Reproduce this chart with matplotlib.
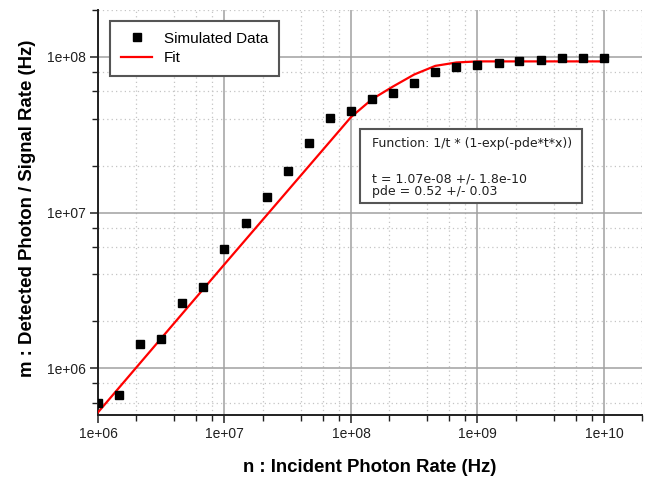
import matplotlib
matplotlib.use("Agg")
import matplotlib.pyplot as plt
from matplotlib.patches import Rectangle
from matplotlib.ticker import LogLocator, NullFormatter, FixedLocator, FixedFormatter

# simulated points
x_data = [1.0e6, 1.47e6, 2.15e6, 3.16e6, 4.64e6, 6.81e6,
          1.0e7, 1.47e7, 2.15e7, 3.16e7, 4.64e7, 6.81e7,
          1.0e8, 1.47e8, 2.15e8, 3.16e8, 4.64e8, 6.81e8,
          1.0e9, 1.47e9, 2.15e9, 3.16e9, 4.64e9, 6.81e9, 1.0e10]
y_data = [5.96e5, 6.77e5, 1.43e6, 1.53e6, 2.61e6, 3.34e6,
          5.80e6, 8.57e6, 1.25e7, 1.85e7, 2.78e7, 4.02e7,
          4.50e7, 5.35e7, 5.87e7, 6.78e7, 8.05e7, 8.67e7,
          8.84e7, 9.11e7, 9.43e7, 9.61e7, 9.90e7, 9.85e7, 9.85e7]

# fit curve
x_fit = [1.0e6, 1.0e7, 1.0e8, 1.47e8, 2.15e8, 3.16e8, 4.64e8, 6.81e8, 1.0e9, 1.0e10]
y_fit = [5.2e5, 4.65e6, 4.1e7, 5.35e7, 6.45e7, 7.7e7, 8.75e7, 9.2e7, 9.35e7, 9.35e7]

x_ticks = [1e6, 1e7, 1e8, 1e9, 1e10]
x_ticklabels = ["1e+06", "1e+07", "1e+08", "1e+09", "1e+10"]
y_ticks = [1e6, 1e7, 1e8]
y_ticklabels = ["1e+06", "1e+07", "1e+08"]

fit_text = "Function: 1/t * (1-exp(-pde*t*x))"
par_t = "t = 1.07e-08 +/- 1.8e-10"
par_pde = "pde = 0.52 +/- 0.03"

plt.rcParams["font.family"] = ["Liberation Sans", "DejaVu Sans"]

fig = plt.figure(figsize=(6.54, 4.79), dpi=100)
ax = fig.add_axes([98/654, 1 - 415/479, 544/654, 405/479])

ax.set_xscale("log")
ax.set_yscale("log")
ax.set_xlim(1e6, 2e10)
ax.set_ylim(5e5, 2e8)

ax.xaxis.set_major_locator(FixedLocator(x_ticks))
ax.xaxis.set_major_formatter(FixedFormatter(x_ticklabels))
ax.yaxis.set_major_locator(FixedLocator(y_ticks))
ax.yaxis.set_major_formatter(FixedFormatter(y_ticklabels))
ax.xaxis.set_minor_locator(LogLocator(base=10, subs=[2, 4, 6, 8]))
ax.yaxis.set_minor_locator(LogLocator(base=10, subs=[2, 4, 6, 8]))
ax.xaxis.set_minor_formatter(NullFormatter())
ax.yaxis.set_minor_formatter(NullFormatter())

ax.grid(True, which="major", color="#a0a0a0", lw=1.1, ls="-")
ax.grid(True, which="minor", color="#c4c4c4", lw=0.9, ls=(0, (1, 2.5)))
ax.set_axisbelow(True)

for s in ["top", "right"]:
    ax.spines[s].set_visible(False)
for s in ["left", "bottom"]:
    ax.spines[s].set_color("#202020")
    ax.spines[s].set_linewidth(1.4)

ax.tick_params(which="major", direction="out", length=6, width=1.1,
               color="#202020", labelsize=10, labelcolor="#202020", pad=3)
ax.tick_params(which="minor", direction="out", length=4, width=1.0, color="#202020")

ax.plot(x_data, y_data, ls="none", marker="s", ms=5.5, color="black",
        label="Simulated Data", zorder=4)
ax.plot(x_fit, y_fit, color="#ff0000", lw=1.6, label="Fit", zorder=3)

ax.set_xlabel("n : Incident Photon Rate (Hz)", fontsize=13.4, fontweight="bold")
ax.set_ylabel("m : Detected Photon / Signal Rate (Hz)", fontsize=13.4, fontweight="bold")
ax.xaxis.label.set_va("baseline")
ax.xaxis.set_label_coords(0.5, (415 - 471.5) / 405)
ax.yaxis.label.set_va("baseline")
ax.yaxis.set_label_coords((32 - 98) / 544, 0.51)

leg = ax.legend(loc="upper left", bbox_to_anchor=(110/654, 1 - 21/479),
                bbox_transform=fig.transFigure, borderaxespad=0,
                fontsize=11, numpoints=1, handlelength=2.07, handletextpad=0.76,
                borderpad=0.7, labelspacing=0.35, fancybox=False, framealpha=1)
leg.get_frame().set_edgecolor("#555555")
leg.get_frame().set_linewidth(1.5)

# parameter box
ax.add_patch(Rectangle(((360-98)/544, (415-203)/405), (582-360)/544, (203-129)/405,
                       transform=ax.transAxes, facecolor="white",
                       edgecolor="#555555", lw=1.5, zorder=5))
tx = (372 - 98) / 544
ax.text(tx, (415-144)/405, fit_text, transform=ax.transAxes, va="center",
        fontsize=9, family="DejaVu Sans", color="#202020", zorder=6)
ax.text(tx, (415-179)/405, par_t, transform=ax.transAxes, va="center",
        fontsize=9, family="DejaVu Sans", color="#202020", zorder=6)
ax.text(tx, (415-191)/405, par_pde, transform=ax.transAxes, va="center",
        fontsize=9, family="DejaVu Sans", color="#202020", zorder=6)

fig.savefig("out.png", dpi=100)
